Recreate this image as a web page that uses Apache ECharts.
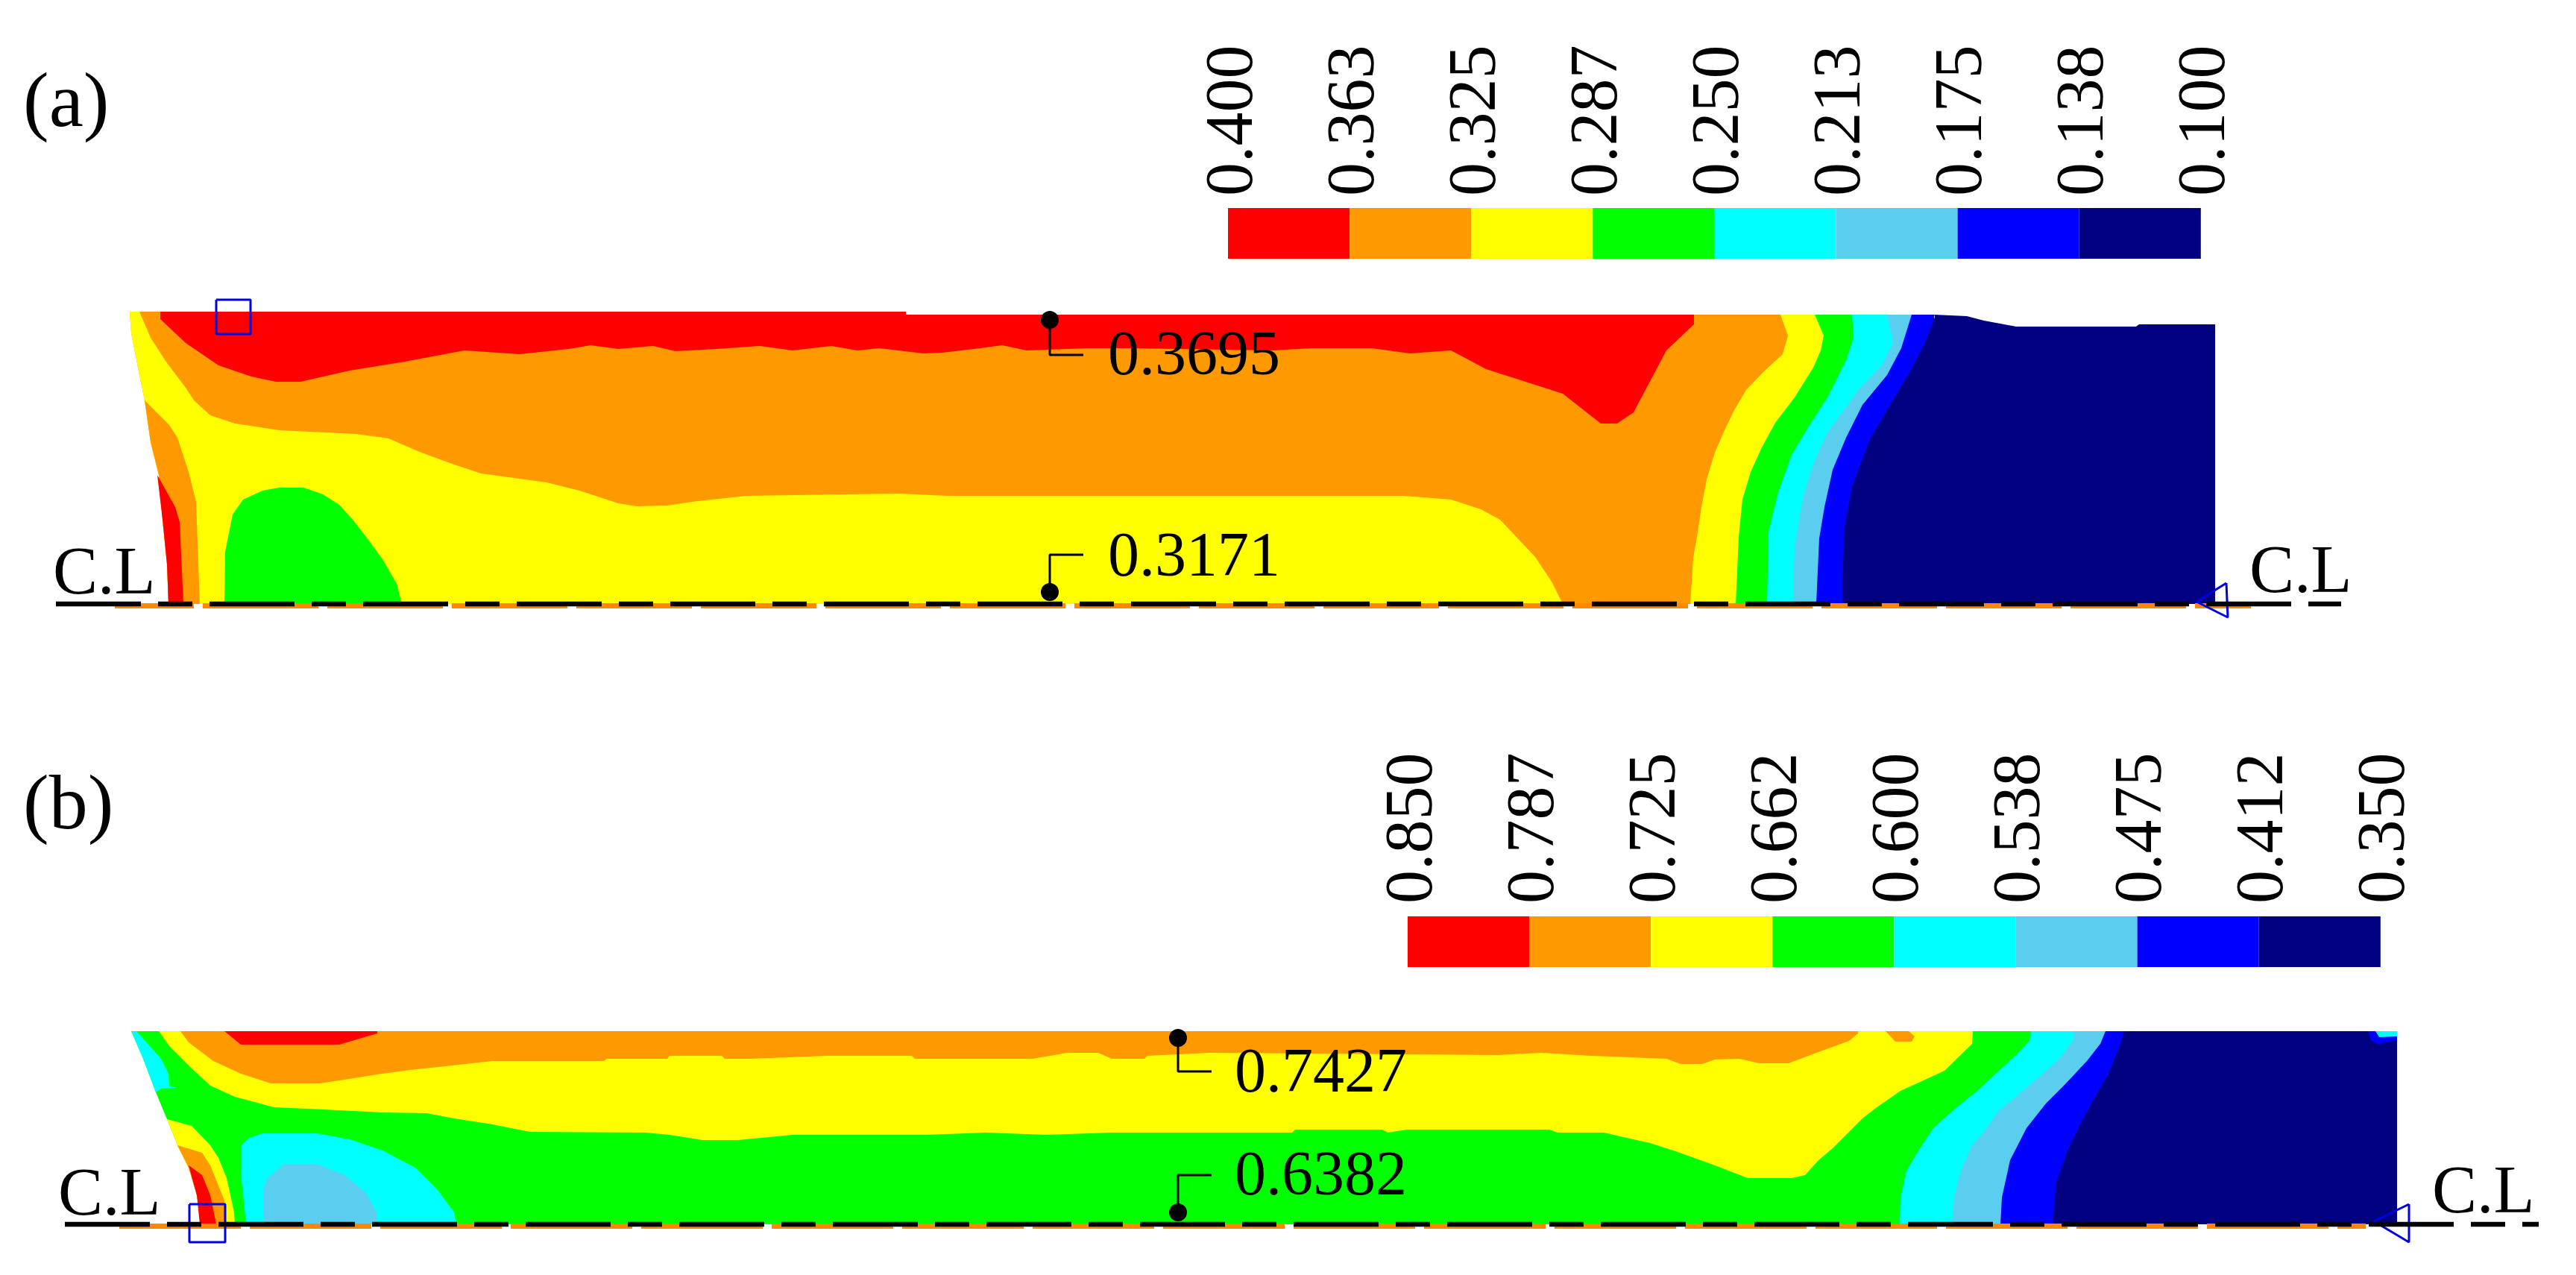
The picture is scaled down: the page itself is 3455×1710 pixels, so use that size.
<!DOCTYPE html>
<html>
<head>
<meta charset="utf-8">
<style>
  html, body { margin: 0; padding: 0; background: #fff; }
  #main { width: 3455px; height: 1710px; }
</style>
<script src="https://cdn.jsdelivr.net/npm/echarts@6/dist/echarts.min.js"></script>
</head>
<body>
<div id="main"></div>
<script>
// contour colours, top of the colour bar first
var palette = ['#ff0000', '#ff9900', '#ffff00', '#00ff00', '#00ffff', '#5bcdee', '#0000ff', '#000080'];
var RED = 0, ORANGE = 1, YELLOW = 2, GREEN = 3, CYAN = 4, SKY = 5, BLUE = 6, NAVY = 7;

var ticksA = ['0.400', '0.363', '0.325', '0.287', '0.250', '0.213', '0.175', '0.138', '0.100'];
var ticksB = ['0.850', '0.787', '0.725', '0.662', '0.600', '0.538', '0.475', '0.412', '0.350'];

// panel (a) contour outlines, [x along strip, height above C.L]
var aLeftEdge = [[226, 0], [224, 53], [218, 113], [213, 173], [202, 217], [194, 273], [187, 307], [176, 363], [174, 392]];
var aDomain = aLeftEdge.concat([[1215, 392], [1215, 388], [2594, 388], [2594, 0]]);
var aYellowLeft = [[174, 392], [187, 392], [202, 357], [224, 323], [249, 290], [260, 273], [282, 253], [315, 242], [374, 233], [477, 228], [521, 222], [565, 203], [609, 187], [645, 175], [733, 163], [777, 152], [829, 135], [854, 131], [895, 132], [928, 137], [1001, 145], [1205, 148], [1271, 145], [1883, 145], [1946, 140], [1986, 127], [2012, 113], [2059, 63], [2081, 30], [2096, 0], [226, 0], [224, 53], [218, 113], [213, 173], [202, 217], [194, 273], [187, 307], [176, 363]];
var aOrangeSliver = [[194, 273], [227, 240], [238, 223], [253, 177], [263, 137], [268, 0], [226, 0], [224, 53], [218, 113], [213, 173], [202, 217]];
var aRedSliver = [[211, 173], [235, 130], [241, 110], [246, 0], [226, 0], [224, 53], [218, 113]];
var aGreenBubble = [[301, 0], [302, 70], [312, 120], [326, 140], [352, 152], [374, 156], [407, 156], [433, 147], [455, 133], [473, 113], [491, 90], [513, 60], [532, 27], [539, 0]];
var aRedTop = [[215, 392], [215, 382], [249, 350], [293, 320], [337, 305], [370, 298], [403, 298], [469, 313], [543, 325], [623, 340], [697, 335], [763, 342], [792, 347], [829, 342], [876, 346], [906, 339], [961, 342], [1019, 346], [1063, 340], [1115, 346], [1150, 340], [1179, 343], [1238, 336], [1264, 337], [1315, 343], [1344, 347], [1377, 340], [1458, 343], [1517, 343], [1707, 340], [1759, 343], [1839, 343], [1891, 336], [1946, 340], [1993, 315], [2096, 282], [2147, 242], [2169, 242], [2191, 257], [2235, 340], [2272, 375], [2272, 388], [1215, 388], [1215, 392]];
var aYellowRight = [[2267, 0], [2271, 62], [2276, 90], [2282, 130], [2289, 167], [2300, 203], [2313, 233], [2326, 260], [2342, 287], [2366, 312], [2391, 335], [2398, 360], [2388, 388], [2594, 388], [2594, 0]];
var aGreenRight = [[2328, 0], [2332, 90], [2337, 140], [2348, 177], [2363, 210], [2381, 243], [2407, 277], [2432, 317], [2442, 340], [2446, 360], [2434, 388], [2594, 388], [2594, 0]];
var aCyanRight = [[2370, 0], [2372, 97], [2385, 150], [2403, 200], [2425, 237], [2451, 277], [2476, 327], [2486, 357], [2484, 388], [2594, 388], [2594, 0]];
var aSkyRight = [[2405, 0], [2407, 77], [2418, 143], [2432, 187], [2451, 230], [2473, 260], [2495, 290], [2524, 320], [2539, 350], [2531, 388], [2594, 388], [2594, 0]];
var aBlueRight = [[2436, 0], [2440, 88], [2447, 130], [2458, 180], [2476, 223], [2498, 267], [2531, 307], [2550, 343], [2564, 388], [2594, 388], [2594, 0]];
var aNavyRight = [[2471, 0], [2473, 97], [2484, 157], [2495, 187], [2509, 223], [2531, 260], [2561, 310], [2583, 353], [2595, 385], [2594, 388], [2638, 386], [2661, 380], [2704, 372], [2865, 372], [2869, 375], [2971, 375], [2971, 0]];

// panel (b) contour outlines
var bLeftEdge = [[271, 0], [264, 39], [253, 76], [238, 106], [224, 141], [209, 177], [192, 222], [176, 259]];
var bDomain = bLeftEdge.concat([[2849, 259], [2849, 0]]);
var bCyanLeft = [[176, 259], [183, 259], [216, 222], [226, 202], [227, 185], [238, 183], [216, 182], [209, 177], [192, 222]];
var bYellow = [[213, 259], [227, 239], [257, 209], [282, 186], [315, 171], [367, 157], [433, 154], [513, 150], [572, 149], [609, 142], [660, 134], [711, 124], [865, 123], [898, 120], [942, 113], [990, 113], [1063, 120], [1242, 120], [1322, 123], [1403, 120], [1491, 123], [1733, 123], [1737, 127], [1854, 127], [1861, 123], [1887, 127], [2078, 127], [2089, 123], [2151, 123], [2177, 117], [2213, 109], [2250, 97], [2300, 79], [2344, 62], [2403, 62], [2421, 66], [2439, 86], [2458, 102], [2498, 142], [2516, 156], [2549, 179], [2571, 189], [2608, 206], [2645, 242], [2646, 259]];
var bOrange = [[242, 259], [253, 244], [286, 219], [323, 202], [363, 189], [429, 189], [462, 194], [513, 202], [550, 207], [616, 214], [660, 219], [810, 219], [814, 222], [895, 222], [898, 226], [968, 226], [972, 222], [1005, 222], [1111, 226], [1223, 226], [1227, 222], [1385, 222], [1432, 230], [1473, 230], [1491, 222], [1535, 222], [1539, 226], [1623, 230], [2008, 227], [2067, 230], [2133, 226], [2235, 222], [2254, 215], [2283, 215], [2300, 221], [2333, 222], [2359, 216], [2399, 216], [2439, 231], [2480, 246], [2492, 256], [2492, 259]];
var bOrangeSpot = [[2529, 259], [2542, 245], [2564, 245], [2568, 252], [2560, 259]];
var bRedTop = [[301, 259], [323, 241], [455, 241], [506, 256], [506, 259]];
var bYellowSliver = [[224, 141], [257, 132], [282, 106], [293, 89], [304, 62], [314, 16], [315, 0], [271, 0], [264, 39], [253, 76], [238, 106]];
var bOrangeSliver = [[238, 106], [271, 96], [282, 79], [301, 32], [302, 0], [271, 0], [264, 39], [253, 76]];
var bRedSliver = [[253, 79], [271, 66], [282, 39], [290, 0], [268, 0], [264, 39]];
var bCyanBubble = [[330, 0], [323, 69], [323, 106], [334, 116], [352, 122], [425, 122], [469, 114], [513, 99], [557, 76], [587, 46], [609, 16], [612, 0]];
var bSkyBubble = [[353, 0], [353, 46], [359, 62], [381, 81], [425, 81], [462, 66], [491, 42], [505, 16], [505, 0]];
var bCyanRight = [[2548, 0], [2549, 36], [2557, 72], [2575, 102], [2593, 129], [2623, 156], [2652, 179], [2681, 206], [2703, 226], [2722, 246], [2724, 259], [2849, 259], [2849, 0]];
var bSkyRight = [[2618, 0], [2621, 36], [2630, 72], [2645, 106], [2659, 122], [2681, 152], [2733, 196], [2762, 222], [2780, 246], [2783, 259], [2849, 259], [2849, 0]];
var bBlueRight = [[2683, 0], [2685, 36], [2696, 86], [2718, 129], [2744, 162], [2769, 187], [2799, 219], [2817, 242], [2824, 259], [2849, 259], [2849, 0]];
var bNavyRight = [[2753, 0], [2758, 56], [2773, 99], [2791, 136], [2813, 176], [2828, 202], [2843, 239], [2849, 259], [3215, 259], [3215, 0]];
var bBlueCorner = [[3176, 259], [3180, 247], [3191, 241], [3198, 244], [3215, 247], [3215, 259]];
var bCyanCorner = [[3186, 259], [3191, 251], [3215, 252], [3215, 259]];

// drawing order matters, later shapes cover earlier ones
var bandsA = [
    [ORANGE, aDomain], [YELLOW, aYellowLeft], [ORANGE, aOrangeSliver], [RED, aRedSliver], [GREEN, aGreenBubble],
    [RED, aRedTop], [YELLOW, aYellowRight], [GREEN, aGreenRight], [CYAN, aCyanRight], [SKY, aSkyRight],
    [BLUE, aBlueRight], [NAVY, aNavyRight]
];
var bandsB = [
    [GREEN, bDomain], [CYAN, bCyanLeft], [YELLOW, bYellow], [ORANGE, bOrange], [ORANGE, bOrangeSpot], [RED, bRedTop],
    [YELLOW, bYellowSliver], [ORANGE, bOrangeSliver], [RED, bRedSliver], [CYAN, bCyanBubble], [SKY, bSkyBubble],
    [CYAN, bCyanRight], [SKY, bSkyRight], [BLUE, bBlueRight], [NAVY, bNavyRight], [BLUE, bBlueCorner], [CYAN, bCyanCorner]
];

// probes: [x, height of dot, height of elbow, label, label x, label height]
var probesA = [[1408, 381, 334, '0.3695', 1486, 330], [1408, 16, 66, '0.3171', 1486, 60]];
var probesB = [[1580, 250, 205, '0.7427', 1656, 200], [1580, 16, 66, '0.6382', 1656, 62]];

// colour bars: left x, top, bottom, tick text base, all in panel units
var barA = { left: 1647, width: 163.1, top: 531, bottom: 463, textAt: 547 };
var barB = { left: 1888, width: 163.1, top: 413, bottom: 345, textAt: 430 };

var serif = '"Liberation Serif", "Times New Roman", serif';

function bandSeries(grid, bands) {
    return {
        type: 'custom',
        xAxisIndex: grid,
        yAxisIndex: grid,
        silent: true,
        data: bands.map(function (b, i) { return [i]; }),
        renderItem: function (params, api) {
            var band = bands[api.value(0)];
            return {
                type: 'polygon',
                shape: { points: band[1].map(function (p) { return api.coord(p); }) },
                style: { fill: palette[band[0]] }
            };
        }
    };
}

function barSeries(grid, bar) {
    return {
        type: 'custom',
        xAxisIndex: grid,
        yAxisIndex: grid,
        silent: true,
        data: palette.map(function (c, i) { return [i]; }),
        renderItem: function (params, api) {
            var i = api.value(0);
            var a = api.coord([bar.left + i * bar.width, bar.top]);
            var b = api.coord([bar.left + (i + 1) * bar.width, bar.bottom]);
            return { type: 'rect', shape: { x: a[0], y: a[1], width: b[0] - a[0], height: b[1] - a[1] }, style: { fill: palette[i] } };
        }
    };
}

function textSeries(grid, items) {
    // items: [text, x, height, font size, rotated]
    return {
        type: 'custom',
        xAxisIndex: grid,
        yAxisIndex: grid,
        silent: true,
        data: items.map(function (t, i) { return [i]; }),
        renderItem: function (params, api) {
            var t = items[api.value(0)];
            var p = api.coord([t[1], t[2]]);
            return {
                type: 'text',
                x: p[0],
                y: p[1],
                rotation: t[4] ? Math.PI / 2 : 0,
                style: { text: t[0], fill: '#000', font: t[3] + 'px ' + serif, align: 'left', verticalAlign: 'middle' }
            };
        }
    };
}

function outlineSeries(grid, points, closed, width, color) {
    return {
        type: 'line',
        xAxisIndex: grid,
        yAxisIndex: grid,
        silent: true,
        symbol: 'none',
        data: closed ? points.concat([points[0]]) : points,
        lineStyle: { color: color, width: width }
    };
}

function dashSeries(grid, from, to, h, width, color, dash, offset) {
    return {
        type: 'line',
        xAxisIndex: grid,
        yAxisIndex: grid,
        silent: true,
        symbol: 'none',
        data: [[from, h], [to, h]],
        lineStyle: { color: color, width: width, type: dash, dashOffset: offset, cap: 'butt' }
    };
}

function probeSeries(grid, probes) {
    var out = [];
    probes.forEach(function (p) {
        out.push(outlineSeries(grid, [[p[0], p[1]], [p[0], p[2]], [p[0] + 45, p[2]]], false, 3, '#000'));
    });
    out.push({
        type: 'scatter',
        xAxisIndex: grid,
        yAxisIndex: grid,
        silent: true,
        symbol: 'circle',
        symbolSize: 24,
        itemStyle: { color: '#000', opacity: 1 },
        data: probes.map(function (p) { return [p[0], p[1]]; })
    });
    return out;
}

function tickItems(bar, ticks) {
    return ticks.map(function (t, i) { return [t, bar.left + 8 + i * bar.width, bar.textAt, 90, true]; });
}

var series = [
    bandSeries(0, bandsA),
    dashSeries(0, 154, 3019, -2.5, 7, '#ff8800', [155, 12], 49),
    outlineSeries(0, [[290, 408], [336, 408], [336, 362], [290, 362]], true, 3, '#0000e0'),
    outlineSeries(0, [[2986, 28], [2946, 3], [2988, -18]], true, 3, '#0000e0'),
    dashSeries(0, 75, 3140, 0, 6.5, '#000', [114, 23, 46, 23], 0),
    barSeries(0, barA),
    textSeries(0, tickItems(barA, ticksA).concat([
        ['(a)', 31, 668, 104], ['C.L', 71, 38, 90], ['C.L', 3017, 40, 90],
        [probesA[0][3], probesA[0][4], probesA[0][5], 84], [probesA[1][3], probesA[1][4], probesA[1][5], 84]
    ])),

    bandSeries(1, bandsB),
    dashSeries(1, 160, 3173, -2.5, 7, '#ff8800', [163, 12], 0),
    outlineSeries(1, [[254, 27], [302, 27], [302, -24], [254, -24]], true, 3, '#0000e0'),
    outlineSeries(1, [[3231, 27], [3184, 4], [3231, -24]], true, 3, '#0000e0'),
    dashSeries(1, 87, 3405, 0, 6.5, '#000', [114, 23, 46, 23], 0),
    barSeries(1, barB),
    textSeries(1, tickItems(barB, ticksB).concat([
        ['(b)', 31, 558, 104], ['C.L', 78, 37, 90], ['C.L', 3262, 40, 90],
        [probesB[0][3], probesB[0][4], probesB[0][5], 84], [probesB[1][3], probesB[1][4], probesB[1][5], 84]
    ]))
].concat(probeSeries(0, probesA), probeSeries(1, probesB));

var myChart = echarts.init(document.getElementById('main'));

var option = {
    animation: false,
    backgroundColor: '#fff',
    grid: [
        { left: 0, top: 0, width: 3455, height: 900 },
        { left: 0, top: 900, width: 3455, height: 810 }
    ],
    xAxis: [
        { type: 'value', gridIndex: 0, min: 0, max: 3455, show: false },
        { type: 'value', gridIndex: 1, min: 0, max: 3455, show: false }
    ],
    yAxis: [
        { type: 'value', gridIndex: 0, min: -90, max: 810, show: false },
        { type: 'value', gridIndex: 1, min: -68, max: 742, show: false }
    ],
    series: series
};

myChart.setOption(option);
</script>
</body>
</html>
